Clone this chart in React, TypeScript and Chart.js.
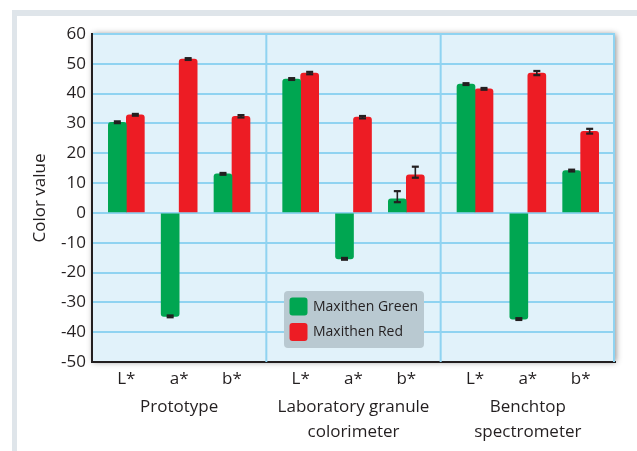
import React, { useEffect, useRef } from 'react';
import { Chart, registerables } from 'chart.js';

Chart.register(...registerables);

// ---- data ----
const groupLabels: (string | string[])[] = [
  'Prototype',
  ['Laboratory granule', 'colorimeter'],
  ['Benchtop', 'spectrometer'],
];
const componentLabels = ['L*', 'a*', 'b*'];
const seriesNames = ['Maxithen Green', 'Maxithen Red'];
const greenValues = [30.4, -34.7, 13.1, 44.9, -15.4, 4.7, 43.2, -35.6, 14.2];
const redValues = [32.9, 51.6, 32.4, 46.9, 32.1, 12.8, 41.6, 46.9, 27.4];
const greenErrUp = [0.3, 0.3, 0.3, 0.3, 0.3, 2.6, 0.3, 0.3, 0.3];
const greenErrDown = [0.3, 0.3, 0.3, 0.3, 0.3, 1.1, 0.3, 0.3, 0.3];
const redErrUp = [0.3, 0.3, 0.4, 0.4, 0.4, 2.7, 0.3, 0.7, 0.8];
const redErrDown = [0.3, 0.3, 0.4, 0.4, 0.4, 1.0, 0.3, 0.7, 0.8];
const yMin = -50;
const yMax = 60;
const yStep = 10;

// ---- layout helpers (category index -> position on linear x scale) ----
const GROUP_SPAN = 3.3;
const FIRST_OFFSET = 0.65;
const X_MAX = GROUP_SPAN * groupLabels.length;
const xPositions: number[] = [];
groupLabels.forEach((_g, gi) => {
  componentLabels.forEach((_c, ci) => {
    xPositions.push(gi * GROUP_SPAN + FIRST_OFFSET + ci);
  });
});
const groupCenters = groupLabels.map((_g, gi) => gi * GROUP_SPAN + GROUP_SPAN / 2);
const separators = groupLabels.slice(1).map((_g, gi) => (gi + 1) * GROUP_SPAN);

const FONT = "'Open Sans', 'Noto Sans', sans-serif";
const TEXT = '#231f20';
const GRID = '#8fd3f1';
const GREEN = '#00a651';
const RED = '#ed1c24';

const plotPlugin = {
  id: 'plotDecor',
  beforeDraw(chart: any) {
    const { ctx, chartArea: a } = chart;
    ctx.save();
    ctx.shadowColor = 'rgba(0,0,0,0.45)';
    ctx.shadowBlur = 6;
    ctx.shadowOffsetX = 1;
    ctx.shadowOffsetY = 0;
    ctx.fillStyle = '#e1f2fa';
    ctx.fillRect(a.left, a.top, a.right - a.left, a.bottom - a.top);
    ctx.restore();
  },
  beforeDatasetsDraw(chart: any) {
    const { ctx, chartArea: a, scales } = chart;
    ctx.save();
    ctx.strokeStyle = GRID;
    ctx.lineWidth = 2;
    separators.forEach((v) => {
      const px = scales.x.getPixelForValue(v);
      ctx.beginPath();
      ctx.moveTo(px, a.top);
      ctx.lineTo(px, a.bottom);
      ctx.stroke();
    });
    ctx.beginPath();
    ctx.moveTo(a.right - 1, a.top);
    ctx.lineTo(a.right - 1, a.bottom);
    ctx.stroke();
    ctx.restore();
  },
  afterDatasetsDraw(chart: any) {
    const { ctx, scales } = chart;
    const errs = [
      [greenErrUp, greenErrDown],
      [redErrUp, redErrDown],
    ];
    ctx.save();
    ctx.fillStyle = TEXT;
    ctx.strokeStyle = TEXT;
    chart.data.datasets.forEach((ds: any, d: number) => {
      const meta = chart.getDatasetMeta(d);
      meta.data.forEach((bar: any, i: number) => {
        const v = ds.data[i].y;
        const yTop = scales.y.getPixelForValue(v + errs[d][0][i]);
        const yBot = scales.y.getPixelForValue(v - errs[d][1][i]);
        const x = bar.x;
        ctx.lineWidth = 1.6;
        ctx.beginPath();
        ctx.moveTo(x, yTop);
        ctx.lineTo(x, yBot);
        ctx.stroke();
        ctx.fillRect(x - 3.5, yTop - 1.1, 7, 2.2);
        ctx.fillRect(x - 3.5, yBot - 1.1, 7, 2.2);
      });
    });
    ctx.restore();
  },
  afterDraw(chart: any) {
    const { ctx } = chart;
    const lx = 284;
    const ly = 291;
    const lw = 140;
    const lh = 57;
    ctx.save();
    ctx.fillStyle = '#b9c9d1';
    ctx.beginPath();
    ctx.roundRect(lx, ly, lw, lh, 4);
    ctx.fill();
    chart.data.datasets.forEach((ds: any, d: number) => {
      const sy = ly + 6.5 + d * 25.5;
      ctx.fillStyle = ds.backgroundColor;
      ctx.beginPath();
      ctx.roundRect(lx + 5.5, sy, 18, 18, 3);
      ctx.fill();
      ctx.fillStyle = TEXT;
      ctx.font = `14px ${FONT}`;
      ctx.textBaseline = 'middle';
      ctx.textAlign = 'left';
      ctx.fillText(ds.label, lx + 29, sy + 9.5);
    });
    ctx.restore();
  },
};

export default function App() {
  const ref = useRef<HTMLCanvasElement | null>(null);

  useEffect(() => {
    if (!ref.current) return;
    const mk = (vals: number[]) => vals.map((y, i) => ({ x: xPositions[i], y }));
    const chart = new Chart(ref.current, {
      type: 'bar',
      data: {
        datasets: [
          { label: seriesNames[0], data: mk(greenValues), backgroundColor: GREEN, borderRadius: 3, barThickness: 18 },
          { label: seriesNames[1], data: mk(redValues), backgroundColor: RED, borderRadius: 3, barThickness: 18 },
        ],
      } as any,
      options: {
        animation: false,
        responsive: false,
        maintainAspectRatio: false,
        layout: { padding: { left: 0, top: 34, right: 22, bottom: 0 } },
        plugins: { legend: { display: false }, tooltip: { enabled: false } },
        scales: {
          x: {
            type: 'linear',
            position: 'bottom',
            min: 0,
            max: X_MAX,
            offset: false,
            afterBuildTicks: (s: any) => {
              s.ticks = xPositions.map((value) => ({ value }));
            },
            afterFit: (s: any) => {
              s.height = 30;
            },
            ticks: {
              autoSkip: false,
              maxRotation: 0,
              padding: 7,
              color: TEXT,
              font: { family: FONT, size: 17 },
              callback: (_v: any, i: number) => componentLabels[i % componentLabels.length],
            },
            grid: { display: false, drawTicks: false },
            border: { display: true, color: TEXT, width: 2 },
          },
          x2: {
            type: 'linear',
            position: 'bottom',
            min: 0,
            max: X_MAX,
            offset: false,
            afterBuildTicks: (s: any) => {
              s.ticks = groupCenters.map((value) => ({ value }));
            },
            afterFit: (s: any) => {
              s.height = 59;
            },
            ticks: {
              autoSkip: false,
              maxRotation: 0,
              padding: 2.5,
              color: TEXT,
              font: { family: FONT, size: 17, lineHeight: 1.47 },
              callback: (_v: any, i: number) => groupLabels[i],
            },
            grid: { display: false, drawTicks: false },
            border: { display: false },
          },
          y: {
            min: yMin,
            max: yMax,
            afterFit: (s: any) => {
              s.width = 92;
            },
            ticks: {
              stepSize: yStep,
              padding: 6,
              color: TEXT,
              font: { family: FONT, size: 17 },
            },
            grid: { color: GRID, lineWidth: 2, drawTicks: false },
            border: { color: TEXT, width: 2 },
            title: {
              display: true,
              text: 'Color value',
              color: TEXT,
              font: { family: FONT, size: 17 },
              padding: { top: 30, bottom: 0 },
            },
          },
        },
      } as any,
      plugins: [plotPlugin],
    });
    return () => chart.destroy();
  }, []);

  return (
    <div style={{ position: 'absolute', left: 0, top: 0, width: 637, height: 451, background: '#fff', overflow: 'hidden' }}>
      <div style={{ position: 'absolute', left: 12, top: 10, width: 625, height: 6, background: '#dfe5ea' }} />
      <div style={{ position: 'absolute', left: 12, top: 10, width: 5, height: 441, background: '#dfe5ea' }} />
      <canvas ref={ref} width={637} height={451} style={{ position: 'absolute', left: 0, top: 0, width: 637, height: 451 }} />
    </div>
  );
}
